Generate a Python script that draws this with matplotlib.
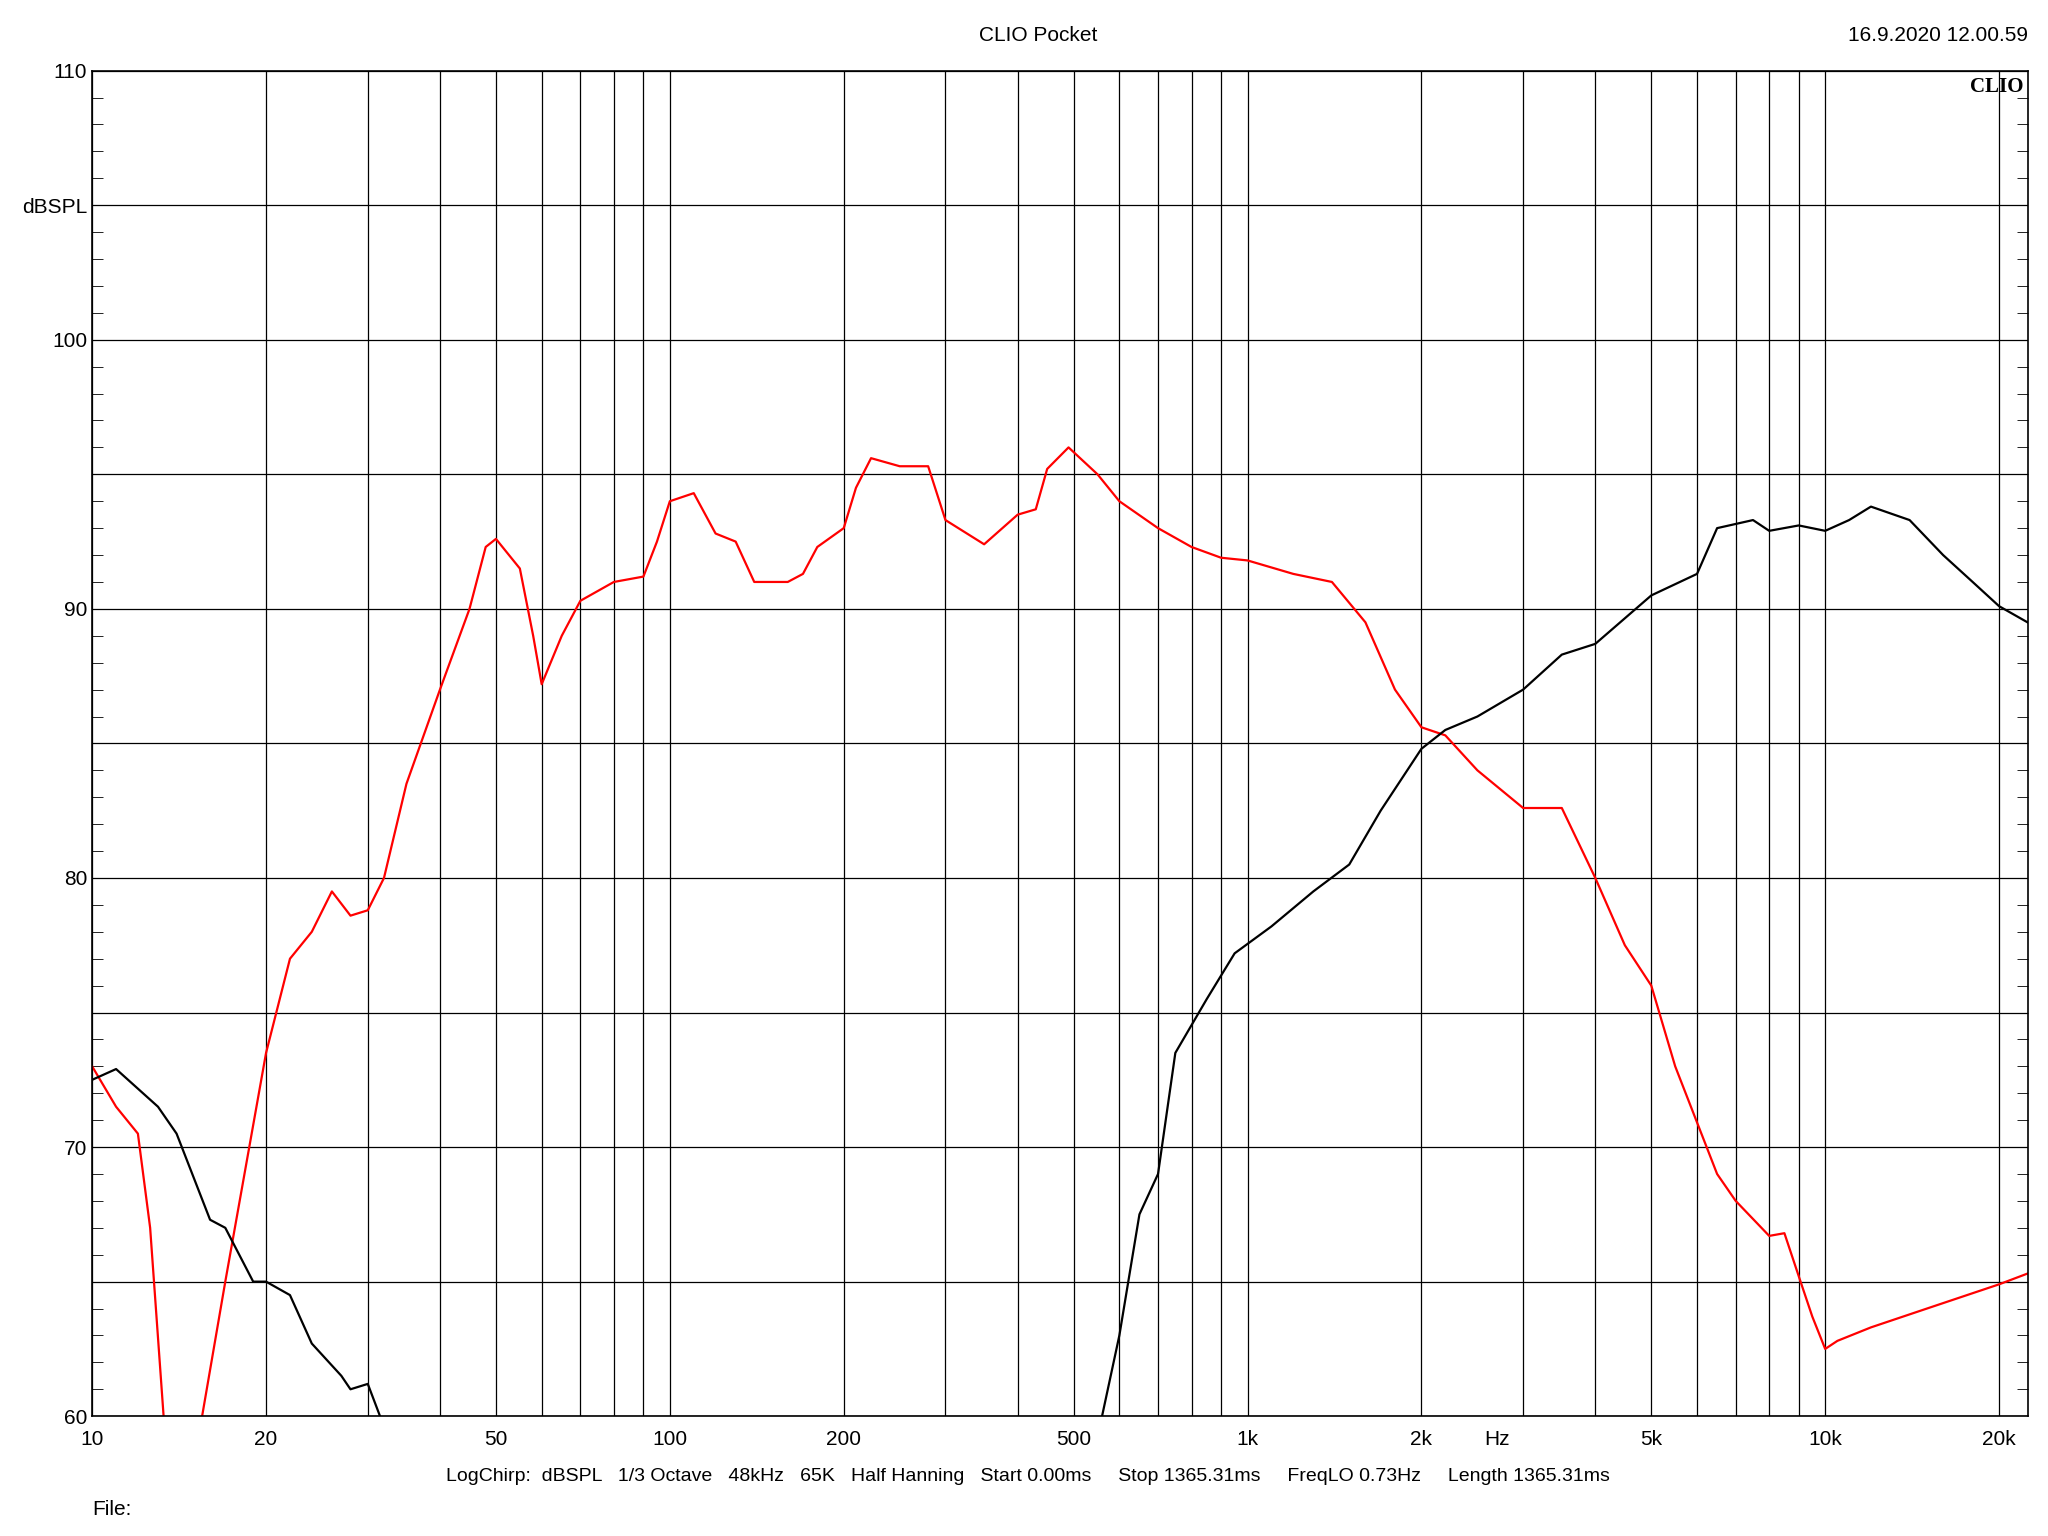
import matplotlib
matplotlib.use('Agg')
import matplotlib.pyplot as plt
from matplotlib.ticker import FixedLocator, NullFormatter, MultipleLocator

plt.rcParams['font.family'] = ['Liberation Sans', 'DejaVu Sans']

red_f = [10, 11, 12, 12.6, 13.5, 15, 15.5, 17, 20, 22, 24, 26, 28, 30, 32, 35, 40, 45, 48, 50, 55, 58, 60,
         65, 70, 80, 90, 95, 100, 110, 120, 130, 140, 150, 160, 170, 180, 200, 210, 223, 250, 280, 300,
         350, 400, 430, 450, 490, 550, 600, 700, 800, 900, 1000, 1200, 1400, 1600, 1800, 2000, 2200,
         2500, 3000, 3500, 4000, 4500, 5000, 5500, 6500, 7000, 8000, 8500, 9000, 9500, 10000, 10500,
         12000, 15000, 20000, 22400]
red_db = [73, 71.5, 70.5, 67, 58, 58, 60, 65, 73.5, 77, 78, 79.5, 78.6, 78.8, 80, 83.5, 87, 90, 92.3, 92.6,
          91.5, 89, 87.2, 89, 90.3, 91, 91.2, 92.5, 94, 94.3, 92.8, 92.5, 91, 91, 91, 91.3, 92.3, 93,
          94.5, 95.6, 95.3, 95.3, 93.3, 92.4, 93.5, 93.7, 95.2, 96, 95, 94, 93, 92.3, 91.9, 91.8, 91.3,
          91, 89.5, 87, 85.6, 85.3, 84, 82.6, 82.6, 80, 77.5, 76, 73, 69, 68, 66.7, 66.8, 65.2, 63.7,
          62.5, 62.8, 63.3, 64, 64.9, 65.3]

blk1_f = [10, 11, 13, 14, 16, 17, 19, 20, 22, 24, 27, 28, 30, 31.5, 33]
blk1_db = [72.5, 72.9, 71.5, 70.5, 67.3, 67, 65, 65, 64.5, 62.7, 61.5, 61, 61.2, 60, 59]
blk2_f = [540, 560, 600, 650, 700, 750, 850, 950, 1100, 1300, 1500, 1700, 2000, 2200, 2500, 3000,
          3500, 4000, 5000, 6000, 6500, 7500, 8000, 9000, 10000, 11000, 12000, 14000, 16000, 18000,
          20000, 22400]
blk2_db = [58, 60, 63, 67.5, 69, 73.5, 75.5, 77.2, 78.2, 79.5, 80.5, 82.5, 84.8, 85.5, 86, 87,
           88.3, 88.7, 90.5, 91.3, 93, 93.3, 92.9, 93.1, 92.9, 93.3, 93.8, 93.3, 92, 91, 90.1, 89.5]

fig = plt.figure(figsize=(20.48, 15.36), dpi=100)
ax = fig.add_axes([0.045, 0.078, 0.945, 0.876])
ax.plot(red_f, red_db, color='red', lw=1.6)
ax.plot(blk1_f, blk1_db, color='black', lw=1.6)
ax.plot(blk2_f, blk2_db, color='black', lw=1.6)
ax.set_xscale('log')
ax.set_xlim(10, 22400)
ax.set_ylim(60, 110)

grid_x = [m * 10 ** e for e in range(1, 5) for m in range(1, 10) if m * 10 ** e < 22400]
for g in grid_x:
    ax.axvline(g, color='black', lw=0.9, zorder=0)
for g in range(60, 111, 5):
    ax.axhline(g, color='black', lw=0.9, zorder=0)

lab_f = [10, 20, 50, 100, 200, 500, 1000, 2000, 2700, 5000, 10000, 20000]
lab_t = ['10', '20', '50', '100', '200', '500', '1k', '2k', 'Hz', '5k', '10k', '20k']
ax.xaxis.set_major_locator(FixedLocator(lab_f))
ax.set_xticklabels(lab_t)
ax.xaxis.set_minor_formatter(NullFormatter())
ax.tick_params(axis='x', which='both', length=0, labelsize=15, pad=10)
ax.set_yticks([60, 70, 80, 90, 100, 105, 110])
ax.set_yticklabels(['60', '70', '80', '90', '100', 'dBSPL', '110'])
ax.yaxis.set_minor_locator(MultipleLocator(1))
ax.tick_params(axis='y', which='both', labelsize=15, right=True, direction='in')
ax.tick_params(axis='y', which='major', length=0)
ax.tick_params(axis='y', which='minor', length=8)
for s in ax.spines.values():
    s.set_linewidth(1.2)

ax.text(0.998, 0.995, 'CLIO', transform=ax.transAxes, ha='right', va='top',
        fontsize=15, fontweight='bold', family='Liberation Serif')
fig.text(0.507, 0.977, 'CLIO Pocket', ha='center', va='center', fontsize=15)
fig.text(0.99, 0.977, '16.9.2020 12.00.59', ha='right', va='center', fontsize=15)
fig.text(0.502, 0.039, 'LogChirp:  dBSPL   1/3 Octave   48kHz   65K   Half Hanning   Start 0.00ms'
         '     Stop 1365.31ms     FreqLO 0.73Hz     Length 1365.31ms',
         ha='center', va='center', fontsize=14)
fig.text(0.045, 0.017, 'File:', ha='left', va='center', fontsize=15)
fig.savefig('out.png')
